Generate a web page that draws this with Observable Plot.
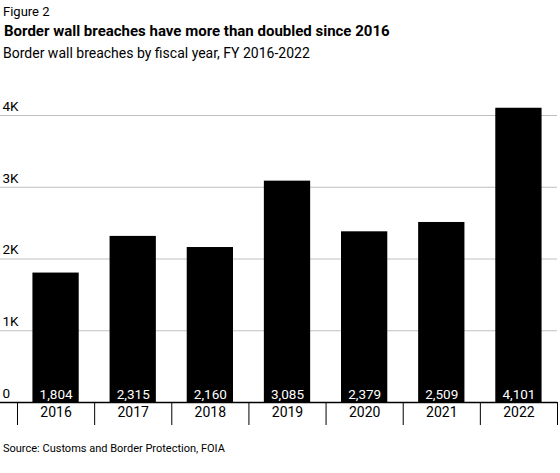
<!DOCTYPE html>
<html>
<head>
<meta charset="utf-8">
<script src="https://cdn.jsdelivr.net/npm/d3@7"></script>
<script src="https://cdn.jsdelivr.net/npm/@observablehq/plot@0.6"></script>
<style>
  html, body { margin: 0; padding: 0; background: #fff; overflow: hidden; }
  body { width: 560px; height: 473px; position: relative; font-family: Roboto, "Liberation Sans", sans-serif; color: #000; }
  .t { position: absolute; left: 3px; white-space: nowrap; line-height: 1; }
  #fig { top: 5px; font-size: 13px; }
  #title { top: 24px; left: 4px; font-size: 15px; font-weight: bold; }
  #sub { top: 46px; font-size: 14px; }
  #src { top: 443px; font-size: 11px; }
  #chart { position: absolute; left: 0; top: 70px; }
</style>
</head>
<body>
<div class="t" id="fig">Figure 2</div>
<div class="t" id="title">Border wall breaches have more than doubled since 2016</div>
<div class="t" id="sub">Border wall breaches by fiscal year, FY 2016-2022</div>
<div id="chart"></div>
<div class="t" id="src">Source: Customs and Border Protection, FOIA</div>
<script>
const years = ["2016", "2017", "2018", "2019", "2020", "2021", "2022"];
const breaches = [1804, 2315, 2160, 3085, 2379, 2509, 4101];
const yTicks = [0, 1000, 2000, 3000, 4000];
const yTickLabels = ["0", "1K", "2K", "3K", "4K"];

const data = years.map((y, i) => ({year: y, value: breaches[i]}));
const gridTicks = yTicks.filter(d => d > 0);
const fmt = d3.format(",");

const xRange = [17, 557];
const step = (xRange[1] - xRange[0]) / years.length;

const chart = Plot.plot({
  width: 560,
  height: 365,
  marginLeft: 0,
  marginRight: 3,
  marginTop: 30,
  marginBottom: 33,
  style: {fontFamily: "Roboto, 'Liberation Sans', sans-serif", fontSize: "13px", background: "#fff", color: "#000"},
  x: {domain: years, range: xRange, paddingInner: 0.4, paddingOuter: 0.2, round: false, label: null, axis: null},
  y: {domain: [0, 4000], range: [332, 45], axis: null},
  marks: [
    Plot.ruleY(gridTicks, {y: d => d, stroke: "#c0c0c0", strokeWidth: 1}),
    Plot.barY(data, {x: "year", y: "value", fill: "#000"}),
    Plot.ruleY([0], {stroke: "#000", strokeWidth: 1.5}),
    Plot.ruleX(years, {x: d => d, y1: 0, y2: 0, insetBottom: -23, dx: -step / 2, stroke: "#000", strokeWidth: 1}),
    Plot.ruleX(years.slice(-1), {x: d => d, y1: 0, y2: 0, insetBottom: -23, dx: step / 2, stroke: "#000", strokeWidth: 1}),
    Plot.text(data, {x: "year", y: 0, text: d => fmt(d.value), fill: "#fff", dy: -8, fontSize: 13.5}),
    Plot.text(years, {x: d => d, y: 0, text: d => d, fill: "#000", dy: 10, fontSize: 14}),
    Plot.text(yTicks, {y: d => d, text: (d, i) => yTickLabels[i], frameAnchor: "left", textAnchor: "start", dx: 2, dy: -9, fill: "#000", fontSize: 13.5})
  ]
});
document.getElementById("chart").appendChild(chart);
</script>
</body>
</html>
